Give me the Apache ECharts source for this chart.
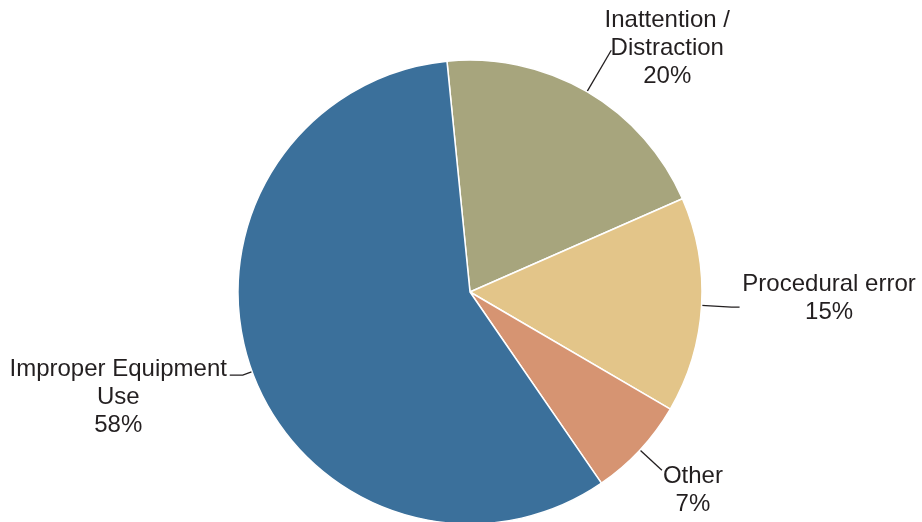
<!DOCTYPE html>
<html>
<head>
<meta charset="utf-8">
<script src="https://cdn.jsdelivr.net/npm/echarts@6/dist/echarts.min.js"></script>
<style>
  html, body { margin: 0; padding: 0; background: #fff; }
  #chart { width: 922px; height: 522px; }
</style>
</head>
<body>
<div id="chart"></div>
<script>
// slice order clockwise from the top
var names = ['Inattention /\nDistraction', 'Procedural error', 'Other', 'Improper Equipment\nUse'];
var values = [20, 15, 7, 58];
var colors = ['#a7a57d', '#e3c589', '#d69472', '#3b709b'];

// label tuning per slice (line lengths, block width, vertical nudge)
var lineLen = [48, 30, 30, 10];
var lineLen2 = [0, 8, 0, 13];
var boxWidth = [106, 171, 60, 217];
var pad = [[0, 0, 4, 0], [0, 0, 18, 0], [40, 0, 0, 0], [44, 0, 0, 0]];
var dist = [3, 4, 1, 3];

var chart = echarts.init(document.getElementById('chart'));

var data = [];
for (var i = 0; i < names.length; i++) {
  data.push({
    name: names[i],
    value: values[i],
    itemStyle: { color: colors[i] },
    labelLine: { length: lineLen[i], length2: lineLen2[i] },
    label: { width: boxWidth[i], padding: pad[i], distanceToLabelLine: dist[i] }
  });
}

var option = {
  backgroundColor: '#fff',
  animation: false,
  series: [{
    type: 'pie',
    center: [470, 292],
    radius: 232,
    startAngle: 95.7,
    clockwise: true,
    avoidLabelOverlap: false,
    data: data,
    itemStyle: { borderColor: '#fff', borderWidth: 1.5 },
    label: {
      show: true,
      position: 'outside',
      overflow: 'none',
      color: '#231f20',
      fontFamily: 'Liberation Sans, Arial, sans-serif',
      fontSize: 24,
      lineHeight: 28,
      formatter: function (p) {
        var lines = p.name.split('\n');
        lines.push(p.value + '%');
        return lines.map(function (s) { return '{c|' + s + '}'; }).join('\n');
      },
      rich: {
        c: {
          align: 'center',
          color: '#231f20',
          fontFamily: 'Liberation Sans, Arial, sans-serif',
          fontSize: 24,
          lineHeight: 28
        }
      }
    },
    labelLine: {
      show: true,
      lineStyle: { color: '#231f20', width: 1.3 }
    }
  }]
};

chart.setOption(option);
</script>
</body>
</html>
